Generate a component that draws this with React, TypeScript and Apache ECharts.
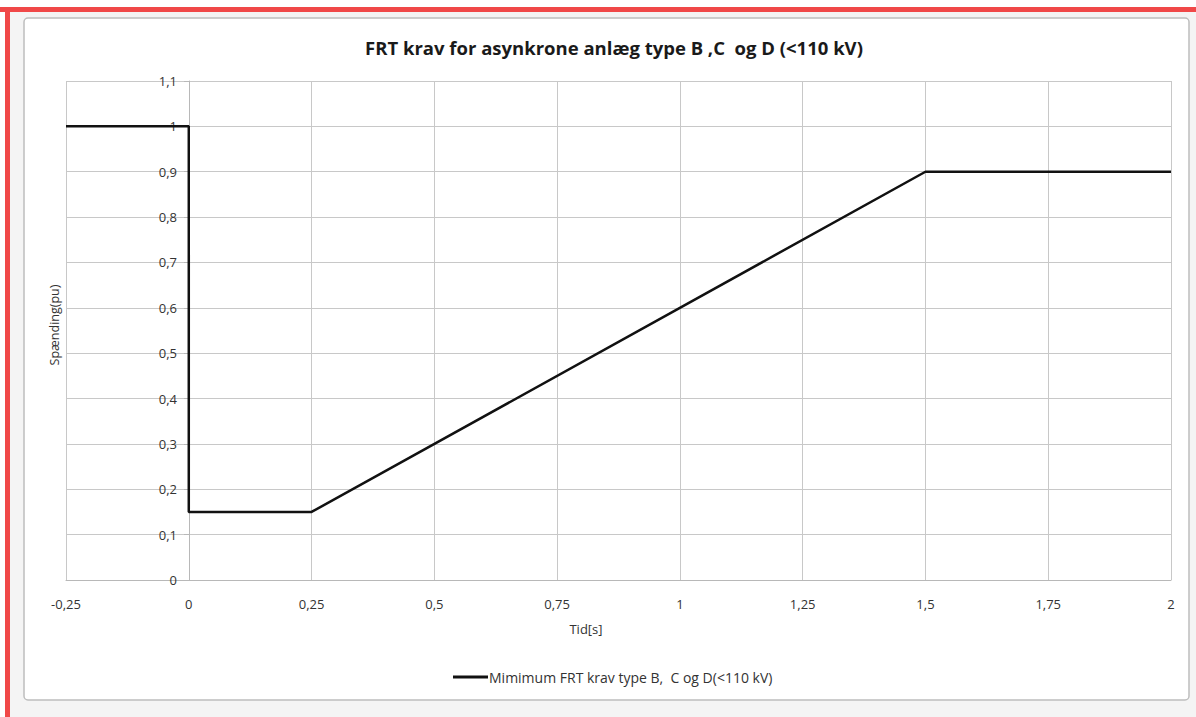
import React, { useEffect, useRef } from "react";
import * as echarts from "echarts";

const TITLE = "FRT krav for asynkrone anlæg type B ,C  og D (<110 kV)";
const SERIES_NAME = "Mimimum FRT krav type B,  C og D(<110 kV)";
const X_NAME = "Tid[s]";
const Y_NAME = "Spænding(pu)";
const timeValues = [-0.25, 0, 0, 0.25, 1.5, 2];
const voltageValues = [1, 1, 0.15, 0.15, 0.9, 0.9];

const fmt = (v: number) => String(Math.round(v * 100) / 100).replace(".", ",");

export default function App() {
  const ref = useRef<HTMLDivElement>(null);
  useEffect(() => {
    if (!ref.current) return;
    const chart = echarts.init(ref.current, null, { renderer: "svg" });
    const font = "'Open Sans', 'Liberation Sans', sans-serif";
    chart.setOption({
      animation: false,
      backgroundColor: "#ffffff",
      title: {
        text: TITLE,
        left: 609,
        top: 33,
        textAlign: "center",
        textStyle: { fontFamily: font, fontSize: 18.5, fontWeight: "bold", color: "#1a1a1a" },
      },
      legend: {
        left: 448,
        top: 665,
        itemWidth: 35,
        itemHeight: 3,
        itemGap: 2,
        icon: "rect",
        textStyle: { fontFamily: font, fontSize: 14, color: "#333333", padding: [0, 0, 0, -4] },
        data: [{ name: SERIES_NAME, icon: "rect" }],
      },
      graphic: [
        { type: "rect", shape: { x: 0, y: 7, width: 1196, height: 5 }, style: { fill: "#f04848" }, z: 100 },
        { type: "rect", shape: { x: 5, y: 7, width: 5, height: 710 }, style: { fill: "#f04848" }, z: 100 },
        { type: "rect", shape: { x: 10, y: 12, width: 1186, height: 705 }, style: { fill: "#f4f4f4" }, z: -10 },
        {
          type: "rect",
          shape: { x: 24, y: 18, width: 1165, height: 682, r: 4 },
          style: { fill: "#ffffff", stroke: "#bdbdbd", lineWidth: 1.5 },
          z: -5,
        },
        {
          type: "text",
          x: 586,
          y: 629,
          style: { text: X_NAME, fontFamily: font, fontSize: 13, fill: "#333333", align: "center", verticalAlign: "middle" },
        },
        {
          type: "text",
          x: 54,
          y: 325,
          rotation: Math.PI / 2,
          style: { text: Y_NAME, fontFamily: font, fontSize: 12.5, fill: "#333333", align: "center", verticalAlign: "middle" },
        },
      ],
      grid: { left: 66, right: 25, top: 81, bottom: 137, containLabel: false },
      xAxis: {
        type: "value",
        min: -0.25,
        max: 2,
        interval: 0.25,
        axisLine: { onZero: false, lineStyle: { color: "#b8b8b8", width: 1 } },
        axisTick: { show: false },
        axisLabel: { formatter: fmt, margin: 17, fontFamily: font, fontSize: 13, color: "#333333" },
        splitLine: { show: true, lineStyle: { color: "#c8c8c8", width: 1 } },
      },
      yAxis: {
        type: "value",
        min: 0,
        max: 1.1,
        interval: 0.1,
        offset: -123,
        axisLine: { show: true, onZero: false, lineStyle: { color: "#b8b8b8", width: 1 } },
        axisTick: { show: true, inside: false, length: 5, lineStyle: { color: "#b8b8b8" } },
        axisLabel: { formatter: fmt, margin: 12, fontFamily: font, fontSize: 13, color: "#333333" },
        splitLine: { show: true, lineStyle: { color: "#c8c8c8", width: 1 } },
      },
      series: [
        {
          name: SERIES_NAME,
          type: "line",
          data: timeValues.map((t, i) => [t, voltageValues[i]]),
          showSymbol: false,
          symbol: "none",
          lineStyle: { color: "#111111", width: 2.5 },
          itemStyle: { color: "#111111" },
        },
      ],
    });
    return () => chart.dispose();
  }, []);
  return <div ref={ref} style={{ position: "fixed", left: 0, top: 0, width: 1196, height: 717 }} />;
}
